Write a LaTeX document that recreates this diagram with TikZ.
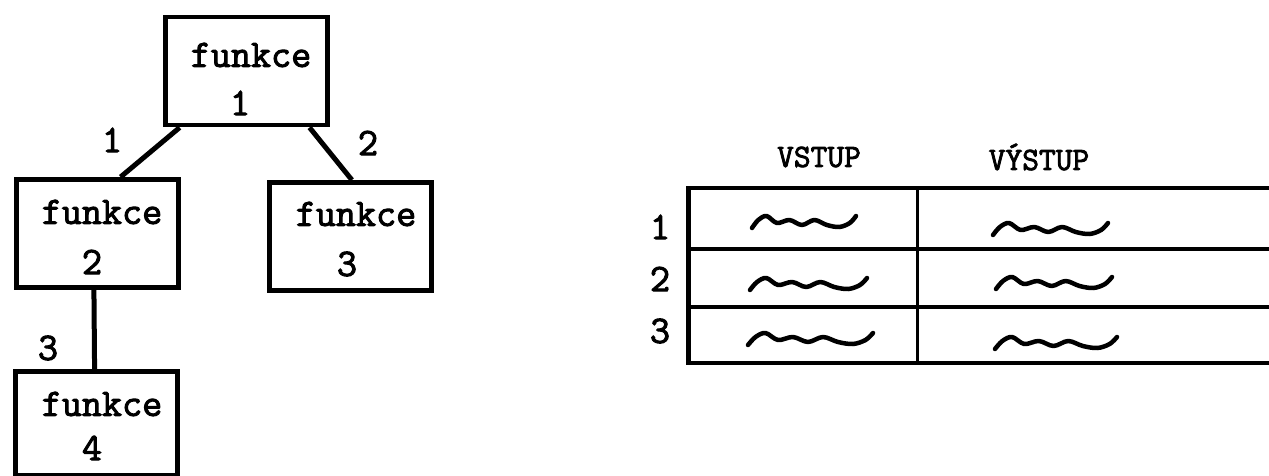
\documentclass[tikz,border=0pt]{standalone}
\usepackage{fontspec}
\newfontfamily\typew{Latin Modern Mono}[FakeBold=2.5]
\usetikzlibrary{calc}

\tikzset{
  box/.style={draw, line width=4.5pt, minimum width=#1, minimum height=108pt, inner sep=0pt, anchor=north west},
  box/.default=162pt,
  link/.style={line width=5pt},
  txt/.style={font=\typew\fontsize{39}{39}\selectfont, inner sep=0pt},
  head/.style={font=\typew\fontsize{32.5}{32.5}\selectfont, inner sep=0pt},
  rule/.style={line width=4pt},
  squigstyle/.style={line width=4.5pt, line cap=round, line join=round},
}

% a hand-drawn wavy stroke: left x, middle y, width
\newcommand\squig[3]{%
  \draw[squigstyle] plot[smooth, tension=0.55] coordinates {
    ({#1},{#2+6}) ({#1+0.06*#3},{#2-2}) ({#1+0.14*#3},{#2-6}) ({#1+0.24*#3},{#2+1})
    ({#1+0.36*#3},{#2-2}) ({#1+0.48*#3},{#2+3}) ({#1+0.60*#3},{#2-2})
    ({#1+0.72*#3},{#2+3}) ({#1+0.84*#3},{#2+5}) ({#1+0.94*#3},{#2+1}) ({#1+#3},{#2-6})};}

\begin{document}
\begin{tikzpicture}[x=1pt, y=-1pt]
\useasboundingbox (0,0) rectangle (1269,476);

% tree of functions
\node[box] (b1) at (163,15) {};
\node[box] (b2) at (14,177) {};
\node[box] (b3) at (267,180) {};
\node[box, minimum height=104pt] (b4) at (13,369) {};

\node[txt] (f1) at (251,55) {funkce};
\node[txt] (n1) at (240,103) {1};
\node[txt] (f2) at (102,212) {funkce};
\node[txt] (n2) at (92,262) {2};
\node[txt] (f3) at (356,214) {funkce};
\node[txt] (n3) at (347,264) {3};
\node[txt] (f4) at (102,404) {funkce};
\node[txt] (n4) at (92,448) {4};

\draw[link] ($(b1.south west)!0.10!(b1.south east)$) -- ($(b2.north west)!0.64!(b2.north east)$);
\draw[link] ($(b1.south west)!0.88!(b1.south east)$) -- ($(b3.north west)!0.51!(b3.north east)$);
\draw[link] ($(b2.south west)!0.48!(b2.south east)$) -- ($(b4.north west)!0.49!(b4.north east)$);

\node[txt] (l1) at (112,140) {1};
\node[txt] (l2) at (368,143) {2};
\node[txt] (l3) at (48,348) {3};

% input/output table
\node[head] (hin) at (819,157) {VSTUP};
\node[head] (hout) at (1039,157) {VÝSTUP};

\draw[rule, line width=5pt] (688,186) -- (688,364);
\draw[rule, line width=3pt] (917,188) -- (917,363);
\draw[rule] (686,188) -- (1272,188);
\draw[rule] (686,249) -- (1272,249);
\draw[rule, line width=4.5pt] (686,307) -- (1272,307);
\draw[rule] (686,363) -- (1272,363);

\node[txt] (r1) at (660,227) {1};
\node[txt] (r2) at (660,279) {2};
\node[txt] (r3) at (660,331) {3};

\squig{752}{222}{104}
\squig{993}{229}{115}
\squig{750}{284}{117}
\squig{996}{283}{116}
\squig{748}{339}{125}
\squig{995}{343}{122}
\end{tikzpicture}
\end{document}
